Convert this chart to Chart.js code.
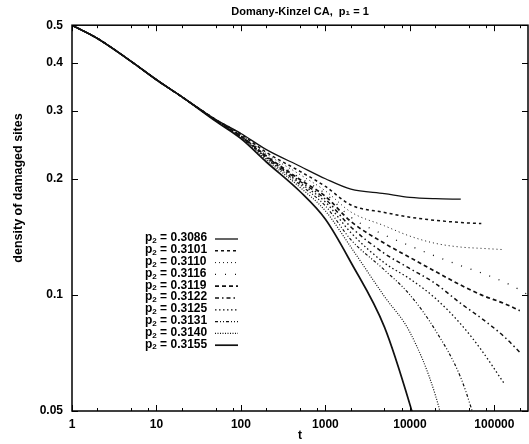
<!DOCTYPE html>
<html>
<head>
<meta charset="utf-8">
<script src="https://cdn.jsdelivr.net/npm/chart.js@4.4.0/dist/chart.umd.min.js"></script>
<style>
  body { margin: 0; background: #fff; }
</style>
</head>
<body>
<canvas id="dkChart" width="529" height="444"></canvas>
<script>
// time steps shared by all runs (log spaced)
const times = [1, 2, 5, 10, 20, 50, 100, 200, 500, 1000, 2000, 5000, 10000, 20000, 40000, 70000, 130000, 200000, 250000]

// p2 values, one curve each
const pValues = ['0.3086', '0.3101', '0.3110', '0.3116', '0.3119', '0.3122', '0.3125', '0.3131', '0.3140', '0.3155']

// density of damaged sites (null = run ended)
const d3086 = [0.5, 0.462, 0.403, 0.361, 0.326, 0.285, 0.262, 0.238, 0.2155, 0.200, 0.188, 0.183, 0.179, 0.1775, 0.177, null, null, null, null]
const d3101 = [0.5, 0.462, 0.403, 0.361, 0.326, 0.285, 0.261, 0.234, 0.209, 0.191, 0.171, 0.1635, 0.159, 0.156, 0.154, 0.153, null, null, null]
const d3110 = [0.5, 0.462, 0.403, 0.361, 0.326, 0.284, 0.260, 0.232, 0.205, 0.186, 0.164, 0.151, 0.142, 0.136, 0.133, 0.132, 0.131, null, null]
const d3116 = [0.5, 0.462, 0.403, 0.361, 0.326, 0.284, 0.259, 0.230, 0.201, 0.183, 0.159, 0.143, 0.134, 0.126, 0.119, 0.114, 0.108, 0.103, 0.100]
const d3119 = [0.5, 0.462, 0.403, 0.361, 0.326, 0.284, 0.258, 0.229, 0.199, 0.180, 0.155, 0.136, 0.125, 0.115, 0.106, 0.100, 0.095, 0.091, null]
const d3122 = [0.5, 0.462, 0.403, 0.361, 0.326, 0.284, 0.258, 0.228, 0.197, 0.177, 0.150, 0.128, 0.117, 0.107, 0.095, 0.087, 0.078, 0.071, null]
const d3125 = [0.5, 0.462, 0.403, 0.361, 0.326, 0.283, 0.257, 0.227, 0.195, 0.174, 0.145, 0.121, 0.110, 0.098, 0.084, 0.072, 0.059, null, null]
const d3131 = [0.5, 0.462, 0.403, 0.361, 0.326, 0.283, 0.256, 0.226, 0.193, 0.170, 0.139, 0.116, 0.100, 0.081, 0.061, 0.042, null, null, null]
const d3140 = [0.5, 0.462, 0.403, 0.361, 0.326, 0.283, 0.255, 0.224, 0.190, 0.165, 0.133, 0.099, 0.080, 0.055, 0.030, null, null, null, null]
const d3155 = [0.5, 0.462, 0.403, 0.361, 0.326, 0.282, 0.254, 0.221, 0.1853, 0.157, 0.1215, 0.0825, 0.052, 0.030, null, null, null, null, null]

const series = [d3086, d3101, d3110, d3116, d3119, d3122, d3125, d3131, d3140, d3155]

// axis ticks
const xMajor = [1, 10, 100, 1000, 10000, 100000]
const xMinor = [2, 5, 8, 20, 50, 80, 200, 500, 800, 2000, 5000, 8000, 20000, 50000, 80000, 200000]
const yTicks = [0.05, 0.1, 0.2, 0.3, 0.4, 0.5]

// gnuplot-ish line types
const dashes = [[], [3, 3], [1, 3], [1, 9], [4, 3], [4, 3, 1.5, 3], [1.5, 2.5], [3, 2, 1, 2, 1, 2], [1, 1.5], []]
const widths = [1.3, 1.5, 1, 1.3, 1.7, 1.5, 1.3, 1.2, 1.2, 1.7]

const FONT = "'Liberation Sans', Arial, sans-serif"
Chart.defaults.font.family = FONT
Chart.defaults.font.weight = 'bold'
Chart.defaults.color = '#000'

const datasets = series.map((vals, i) => ({
    label: 'p2 = ' + pValues[i],
    data: times.map((t, j) => ({x: t, y: vals[j]})).filter(p => p.y !== null),
    borderColor: '#111',
    borderWidth: widths[i],
    borderDash: dashes[i],
    pointRadius: 0,
    fill: false,
    cubicInterpolationMode: 'monotone'
}))

// frame with inward ticks, rotated y title, legend inside the plot
const decor = {
    id: 'decor',
    afterDraw(chart) {
        const ctx = chart.ctx
        const a = chart.chartArea
        const xs = chart.scales.x
        const ys = chart.scales.y
        ctx.save()
        ctx.strokeStyle = '#000'
        ctx.lineWidth = 1.5
        ctx.strokeRect(a.left, a.top, a.right - a.left, a.bottom - a.top)
        ctx.lineWidth = 1
        ctx.beginPath()
        const xTick = (v, len) => {
            const px = Math.round(xs.getPixelForValue(v)) + 0.5
            ctx.moveTo(px, a.bottom); ctx.lineTo(px, a.bottom - len)
            ctx.moveTo(px, a.top); ctx.lineTo(px, a.top + len)
        }
        xMajor.forEach(v => xTick(v, 6))
        xMinor.forEach(v => xTick(v, 3))
        yTicks.forEach(v => {
            const py = Math.round(ys.getPixelForValue(v)) + 0.5
            ctx.moveTo(a.left, py); ctx.lineTo(a.left + 6, py)
            ctx.moveTo(a.right, py); ctx.lineTo(a.right - 6, py)
        })
        ctx.stroke()

        ctx.fillStyle = '#000'
        ctx.font = 'bold 12.5px ' + FONT
        ctx.textAlign = 'center'
        ctx.textBaseline = 'middle'
        ctx.translate(19, 188)
        ctx.rotate(-Math.PI / 2)
        ctx.fillText('density of damaged sites', 0, 0)
        ctx.restore()

        ctx.save()
        ctx.fillStyle = '#000'
        ctx.textAlign = 'left'
        ctx.textBaseline = 'middle'
        chart.data.datasets.forEach((ds, i) => {
            const y = 238 + i * 11.8
            let x = 145
            ctx.font = 'bold 12px ' + FONT
            ctx.fillText('p', x, y)
            x += ctx.measureText('p').width
            ctx.font = 'bold 8px ' + FONT
            ctx.fillText('2', x, y + 3)
            x += ctx.measureText('2').width
            ctx.font = 'bold 12px ' + FONT
            ctx.fillText(' = ' + pValues[i], x, y)
            ctx.strokeStyle = ds.borderColor
            ctx.lineWidth = ds.borderWidth
            ctx.setLineDash(ds.borderDash)
            ctx.beginPath()
            ctx.moveTo(215, y + 1)
            ctx.lineTo(238, y + 1)
            ctx.stroke()
        })
        ctx.restore()
    }
}

new Chart(document.getElementById('dkChart'), {
    type: 'line',
    data: {datasets: datasets},
    plugins: [decor],
    options: {
        responsive: false,
        animation: false,
        layout: {padding: {left: 0, right: 1, top: 0, bottom: 0}},
        plugins: {
            legend: {display: false},
            tooltip: {enabled: false},
            title: {
                display: true,
                fullSize: false,
                text: 'Domany-Kinzel CA,  p\u2081 = 1',
                font: {size: 11, weight: 'bold'},
                color: '#000',
                padding: {top: 5, bottom: 7}
            }
        },
        scales: {
            x: {
                type: 'logarithmic',
                min: 1,
                max: 250000,
                grid: {display: false, drawTicks: false},
                border: {display: false},
                afterBuildTicks: s => { s.ticks = xMajor.map(v => ({value: v})) },
                afterFit: s => { s.height = 33 },
                ticks: {
                    autoSkip: false,
                    maxRotation: 0,
                    padding: 6,
                    font: {size: 12},
                    callback: v => String(v)
                },
                title: {display: true, text: 't', font: {size: 12}, padding: {top: 0, bottom: 1}}
            },
            y: {
                type: 'logarithmic',
                min: 0.05,
                max: 0.5,
                grid: {display: false, drawTicks: false},
                border: {display: false},
                afterBuildTicks: s => { s.ticks = yTicks.map(v => ({value: v})) },
                afterFit: s => { s.width = 72 },
                ticks: {
                    autoSkip: false,
                    padding: 9,
                    font: {size: 12},
                    callback: v => String(v)
                }
            }
        }
    }
})
</script>
</body>
</html>
